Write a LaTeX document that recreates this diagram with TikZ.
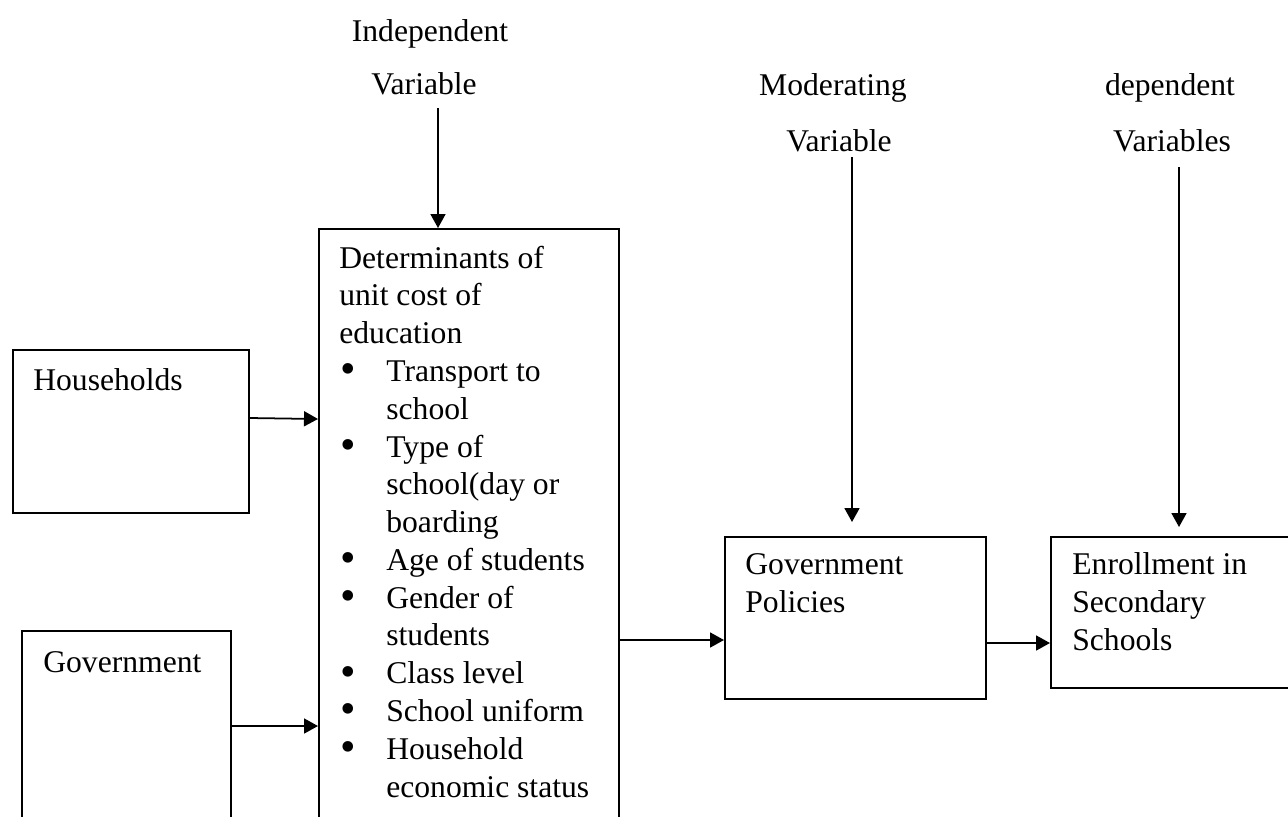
\documentclass[tikz,border=0pt]{standalone}
\usepackage{fontspec}
\setmainfont{Liberation Serif}
\usetikzlibrary{arrows.meta}
\tikzset{
	box/.style={draw, line width=1.1pt, rectangle, anchor=north west, inner sep=0pt},
	txt/.style={font=\fontsize{18}{21.5}\selectfont, inner sep=0pt, anchor=base west, align=left},
	lbl/.style={font=\fontsize{18}{21.5}\selectfont, inner sep=0pt, anchor=base},
	arr/.style={line width=1pt, -{Triangle[length=0.28cm, width=0.3cm]}}
}
\newcommand{\bul}{\makebox[0.94cm][l]{\hspace{0.03cm}\raisebox{-0.05cm}{\scalebox{1.4}{\textbullet}}}}
\newcommand{\ind}{\hspace*{0.94cm}}

\begin{document}
\begin{tikzpicture}[x=0.02cm, y=-0.02cm]
		%%%%% START %%%%%
		\useasboundingbox (0, 0) rectangle (1288, 816);
		
		% labels on top
		\node[lbl] (ind1) at (430, 41) {Independent};
		\node[lbl] (ind2) at (424, 94) {Variable};
		\node[lbl] (mod1) at (833, 95) {Moderating};
		\node[lbl] (mod2) at (839, 151) {Variable};
		\node[lbl] (dep1) at (1170, 95) {dependent};
		\node[lbl] (dep2) at (1172, 151) {Variables};
		
		% boxes
		\node[box, minimum width=4.72cm, minimum height=3.26cm] (hh) at (12, 349) {};
		\node[box, minimum width=4.18cm, minimum height=4.6cm] (gov) at (21, 630) {};
		\node[box, minimum width=6.0cm, minimum height=12.6cm] (det) at (318, 228) {};
		\node[box, minimum width=5.22cm, minimum height=3.24cm] (pol) at (724, 536) {};
		\node[box, minimum width=5.2cm, minimum height=3.02cm] (enr) at (1050, 536) {};
		
		% box texts (base = last line)
		\node[txt] (hhtxt) at (33, 390) {Households};
		\node[txt] (govtxt) at (43, 672) {Government};
		\node[txt] (poltxt) at (745, 612) {Government\\Policies};
		\node[txt] (enrtxt) at (1072, 650) {Enrollment in\\Secondary\\Schools};
		\node[txt] (dettxt) at (339, 797) {Determinants of\\unit cost of\\education\\
			\bul Transport to\\\ind school\\
			\bul Type of\\\ind school(day or\\\ind boarding\\
			\bul Age of students\\
			\bul Gender of\\\ind students\\
			\bul Class level\\
			\bul School uniform\\
			\bul Household\\\ind economic status};
		
		% arrows
		\coordinate (ia) at (438, 108);
		\coordinate (ma) at (852, 157);
		\coordinate (mb) at (852, 522);
		\coordinate (da) at (1179, 167);
		\coordinate (db) at (1179, 527);
		
		\draw[arr] (ia) -- (ia |- det.north);
		\draw[arr] (ma) -- (mb);
		\draw[arr] (da) -- (db);
		
		\draw[arr] (hh.east |- 0, 418) -- (det.west |- 0, 419);
		\draw[arr] (gov.east |- 0, 726) -- (det.west |- 0, 726);
		\draw[arr] (det.east |- 0, 640) -- (pol.west |- 0, 640);
		\draw[arr] (pol.east |- 0, 643) -- (enr.west |- 0, 643);
		
		%%%%% END %%%%%
	\end{tikzpicture}
\end{document}
